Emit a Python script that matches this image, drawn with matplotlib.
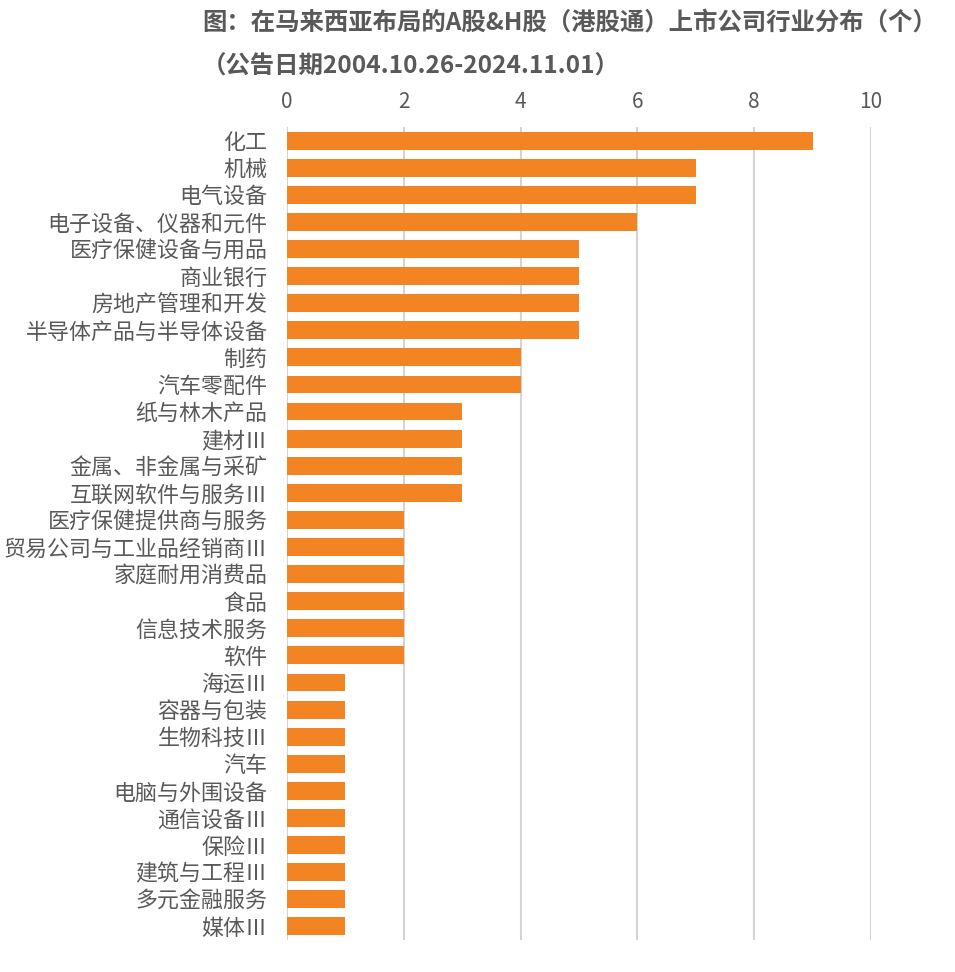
import matplotlib.pyplot as plt

plt.rcParams['font.family'] = ['Noto Sans CJK SC', 'DejaVu Sans']

# Data
industries = ["化工", "机械", "电气设备", "电子设备、仪器和元件", "医疗保健设备与用品",
              "商业银行", "房地产管理和开发", "半导体产品与半导体设备", "制药", "汽车零配件",
              "纸与林木产品", "建材Ⅲ", "金属、非金属与采矿", "互联网软件与服务Ⅲ",
              "医疗保健提供商与服务", "贸易公司与工业品经销商Ⅲ", "家庭耐用消费品", "食品",
              "信息技术服务", "软件", "海运Ⅲ", "容器与包装", "生物科技Ⅲ", "汽车",
              "电脑与外围设备", "通信设备Ⅲ", "保险Ⅲ", "建筑与工程Ⅲ", "多元金融服务", "媒体Ⅲ"]
counts = [9, 7, 7, 6, 5, 5, 5, 5, 4, 4, 3, 3, 3, 3, 2, 2, 2, 2, 2, 2,
          1, 1, 1, 1, 1, 1, 1, 1, 1, 1]
xticks = [0, 2, 4, 6, 8, 10]

grey = '#595959'

fig = plt.figure(figsize=(9.55, 9.72), dpi=100)
ax = fig.add_axes([0.3005, 0.033, 0.6115, 0.8363])

ax.barh(range(len(industries)), counts, height=0.66, color='#F28423', zorder=3)

ax.set_xlim(0, 10)
ax.set_ylim(len(industries) - 0.5, -0.5)
ax.set_yticks(range(len(industries)))
ax.set_yticklabels(industries, fontsize=15.8, color=grey)
ax.set_xticks(xticks)
ax.set_xticklabels([str(t) for t in xticks], fontsize=15, color=grey)
ax.xaxis.tick_top()
ax.tick_params(axis='x', length=0, pad=10)
ax.tick_params(axis='y', length=0, pad=14)
ax.grid(axis='x', color='#D4D4D4', linewidth=1.5, zorder=0)
for s in ax.spines.values():
    s.set_visible(False)

fig.text(0.2115, 0.977, "图：在马来西亚布局的A股&H股（港股通）上市公司行业分布（个）",
         fontsize=17.6, fontweight='bold', color=grey, ha='left', va='center')
fig.text(0.2115, 0.933, "（公告日期2004.10.26-2024.11.01）",
         fontsize=17.6, fontweight='bold', color=grey, ha='left', va='center')

fig.savefig('out.png', dpi=100)
